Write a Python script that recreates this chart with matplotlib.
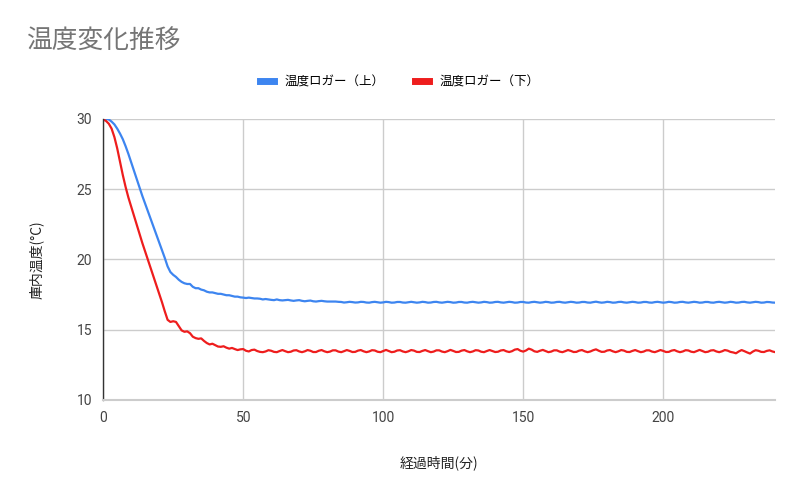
import numpy as np
import matplotlib
matplotlib.use('Agg')
import matplotlib.pyplot as plt

plt.rcParams['font.family'] = ['Noto Sans CJK JP', 'DejaVu Sans']

title = '温度変化推移'
series_names = ['温度ロガー（上）', '温度ロガー（下）']
x_label = '経過時間(分)'
y_label = '庫内温度(°C)'

# logger above (per minute, 0..240)
temp_upper = [
    30.0, 30.0, 29.95, 29.8, 29.6, 29.3, 28.95, 28.55, 28.05, 27.5, 26.9, 26.3,
    25.7, 25.1, 24.5, 23.95, 23.4, 22.85, 22.3, 21.75, 21.2, 20.65, 20.1, 19.5,
    19.1, 18.9, 18.75, 18.55, 18.4, 18.3, 18.25, 18.25, 18.05, 17.95, 17.95, 17.85,
    17.8, 17.7, 17.65, 17.65, 17.6, 17.55, 17.55, 17.5, 17.45, 17.45, 17.4, 17.35,
    17.35, 17.3, 17.28, 17.25, 17.28, 17.25, 17.22, 17.22, 17.2, 17.15, 17.18, 17.15,
    17.12, 17.1, 17.15, 17.1, 17.08, 17.1, 17.12, 17.08, 17.05, 17.08, 17.1, 17.05,
    17.02, 17.05, 17.07, 17.02, 17.0, 17.03, 17.05, 17.02, 17.0, 17.0, 17.0, 17.0,
    16.98, 16.97,
    16.93, 16.95, 16.98, 16.96, 16.93, 16.94, 16.98, 16.97, 16.93, 16.92, 16.96, 16.98,
    16.95, 16.92, 16.94, 16.98, 16.96, 16.92, 16.93, 16.97, 16.97, 16.93, 16.92, 16.95,
    16.98, 16.95, 16.92, 16.94, 16.98, 16.96, 16.92, 16.93, 16.97, 16.98, 16.94, 16.92,
    16.95, 16.98, 16.96, 16.92, 16.93, 16.97, 16.97, 16.93, 16.92, 16.96, 16.98, 16.95,
    16.92, 16.94, 16.98, 16.96, 16.92, 16.93, 16.97, 16.98, 16.94, 16.92, 16.95, 16.98,
    16.96, 16.92, 16.93, 16.97, 16.97, 16.93, 16.92, 16.96, 16.98, 16.95, 16.92, 16.94,
    16.98, 16.96, 16.92, 16.93, 16.97, 16.98, 16.94, 16.92, 16.95, 16.98, 16.96, 16.92,
    16.93, 16.97, 16.97, 16.93, 16.92, 16.96, 16.99, 16.95, 16.92, 16.94, 16.98, 16.96,
    16.92, 16.93, 16.97, 16.98, 16.94, 16.92, 16.95, 16.98, 16.96, 16.92, 16.93, 16.97,
    16.97, 16.93, 16.92, 16.96, 16.98, 16.95, 16.92, 16.94, 16.98, 16.96, 16.92, 16.93,
    16.97, 16.98, 16.94, 16.92, 16.95, 16.98, 16.96, 16.92, 16.93, 16.97, 16.97, 16.93,
    16.92, 16.96, 16.98, 16.95, 16.92, 16.94, 16.98, 16.96, 16.92, 16.93, 16.97, 16.98,
    16.94, 16.92, 16.95, 16.98, 16.96, 16.92, 16.93, 16.97, 16.96, 16.93, 16.92,
]

# logger below (per minute, 0..240)
temp_lower = [
    29.95, 29.85, 29.65, 29.3, 28.7, 27.9, 26.95, 26.0, 25.15, 24.4, 23.75, 23.1,
    22.45, 21.8, 21.15, 20.55, 19.95, 19.35, 18.75, 18.15, 17.55, 16.95, 16.3, 15.7,
    15.55, 15.6, 15.55, 15.25, 14.95, 14.85, 14.88, 14.75, 14.5, 14.4, 14.35, 14.38,
    14.2, 14.05, 13.95, 14.0, 13.9, 13.8, 13.78, 13.82, 13.72, 13.65, 13.7, 13.62,
    13.55, 13.6, 13.62, 13.5, 13.45, 13.55, 13.58, 13.48, 13.42,
    13.40, 13.45, 13.54, 13.50, 13.42, 13.40, 13.48, 13.55, 13.47, 13.40, 13.43, 13.52,
    13.54, 13.45, 13.40, 13.46, 13.55, 13.50, 13.41, 13.41, 13.50, 13.55, 13.46, 13.40,
    13.44, 13.53, 13.53, 13.44, 13.40, 13.47, 13.55, 13.49, 13.41, 13.42, 13.51, 13.55,
    13.46, 13.40, 13.45, 13.54, 13.52, 13.43, 13.40, 13.48, 13.56, 13.48, 13.40, 13.43,
    13.52, 13.54, 13.45, 13.40, 13.46, 13.55, 13.51, 13.42, 13.41, 13.49, 13.55, 13.47,
    13.40, 13.44, 13.53, 13.53, 13.44, 13.40, 13.47, 13.56, 13.49, 13.41, 13.42, 13.51,
    13.55, 13.46, 13.40, 13.45, 13.54, 13.52, 13.43, 13.40, 13.48, 13.55, 13.48, 13.41,
    13.43, 13.52, 13.55, 13.46, 13.41, 13.47, 13.58, 13.62, 13.50, 13.44, 13.52, 13.65,
    13.58, 13.46, 13.42, 13.50, 13.56, 13.48, 13.40, 13.44, 13.53, 13.53, 13.44, 13.40,
    13.47, 13.55, 13.49, 13.41, 13.42, 13.51, 13.55, 13.46, 13.40, 13.45, 13.54, 13.60,
    13.50, 13.42, 13.43, 13.52, 13.55, 13.46, 13.40, 13.46, 13.55, 13.51, 13.42, 13.41,
    13.49, 13.55, 13.47, 13.40, 13.44, 13.53, 13.53, 13.44, 13.40, 13.47, 13.55, 13.49,
    13.41, 13.42, 13.51, 13.55, 13.46, 13.40, 13.45, 13.54, 13.52, 13.43, 13.40, 13.48,
    13.56, 13.48, 13.40, 13.43, 13.52, 13.54, 13.45, 13.40, 13.46, 13.55, 13.51, 13.42,
    13.38, 13.32, 13.45, 13.55, 13.47, 13.38, 13.30, 13.44, 13.54, 13.50, 13.42, 13.41,
    13.49, 13.53, 13.45, 13.40,
]

minutes = np.arange(len(temp_upper))

x_ticks = [0, 50, 100, 150, 200]
y_ticks = [10, 15, 20, 25, 30]

fig = plt.figure(figsize=(8, 4.95), dpi=100)
ax = fig.add_axes([0.129, 0.192, 0.840, 0.568])

ax.plot(minutes, temp_upper, color='#3d85f0', lw=1.6, label=series_names[0])
ax.plot(minutes, temp_lower, color='#ee1d1d', lw=1.6, label=series_names[1])

ax.set_xlim(0, 240)
ax.set_ylim(10, 30)
ax.set_xticks(x_ticks)
ax.set_yticks(y_ticks)
ax.grid(True, color='#cccccc', lw=1)
ax.set_axisbelow(True)
ax.tick_params(length=0, labelsize=10, colors='#444444', pad=8)
for lbl in ax.get_xticklabels() + ax.get_yticklabels():
    lbl.set_family(['Roboto', 'DejaVu Sans'])

for s in ['top', 'right']:
    ax.spines[s].set_visible(False)
ax.spines['left'].set_color('#333333')
ax.spines['left'].set_linewidth(1)
ax.spines['bottom'].set_color('#cccccc')
ax.spines['bottom'].set_linewidth(1.5)

ax.set_xlabel(x_label, fontsize=10, color='#222222', labelpad=22)
ax.set_ylabel(y_label, fontsize=10, color='#222222', labelpad=24)

fig.text(0.034, 0.915, title, fontsize=18.5, color='#757575', va='center', ha='left')

fig.legend(loc='center', bbox_to_anchor=(0.5, 0.834), ncol=2, frameon=False,
           fontsize=9, handlelength=1.1, handletextpad=0.9, columnspacing=2.4)
leg = fig.legends[0]
for h in leg.legend_handles:
    h.set_linewidth(5)

fig.savefig('out.png', dpi=100, facecolor='white')
